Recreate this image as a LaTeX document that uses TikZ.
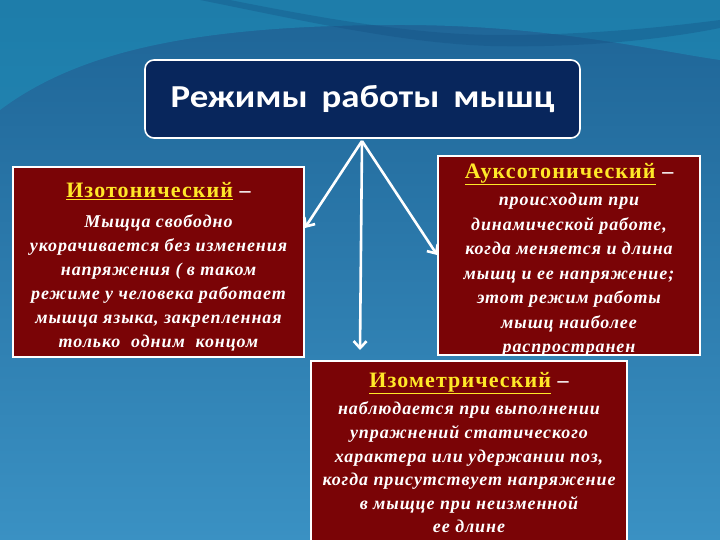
\documentclass[tikz,border=0pt]{standalone}
\usepackage{fontspec}
\setmainfont{Liberation Serif}
\newfontfamily\bodyfont[LetterSpace=5]{Liberation Serif}
\newfontfamily\titlefont{Carlito}
\usetikzlibrary{arrows.meta}
\definecolor{bgA}{RGB}{30,100,150}
\definecolor{bgB}{RGB}{58,145,195}
\definecolor{bgLight}{RGB}{30,150,190}
\definecolor{bgDark}{RGB}{20,80,130}
\definecolor{boxred}{RGB}{122,4,6}
\definecolor{navy}{RGB}{8,38,92}
\definecolor{headyel}{RGB}{255,232,40}
\tikzset{
  redbox/.style={draw=white, line width=1.6pt, fill=boxred, inner sep=0pt},
  titlebox/.style={draw=white, line width=1.6pt, fill=navy, rounded corners=9pt, inner sep=0pt,
    font=\titlefont\bfseries\fontsize{32}{36}\selectfont, text=white},
  bodytext/.style={align=center, text=white, inner sep=0pt, anchor=north,
    font=\bodyfont\bfseries\itshape\fontsize{18}{24}\selectfont},
  conn/.style={draw=white, line width=2.6pt, -{Straight Barb[length=7pt,width=13pt,line width=2.6pt]}}
}
\newcommand{\head}[1]{{\upshape\bfseries\fontsize{22}{24}\selectfont\textcolor{headyel}{\underline{#1}} –}}
\begin{document}
\begin{tikzpicture}[x=1pt,y=1pt]
\useasboundingbox (0,0) rectangle (720,540);
\shade[top color=bgA, bottom color=bgB] (0,0) rectangle (720,540);
\fill[bgLight, opacity=0.5] (0,540) -- (0,430) .. controls (80,490) and (200,515) .. (400,515) .. controls (550,515) and (650,490) .. (720,480) -- (720,540) -- cycle;
\fill[bgDark, opacity=0.35] (230,540) .. controls (330,520) and (420,505) .. (500,505) .. controls (600,505) and (680,515) .. (720,520) -- (720,512) .. controls (660,500) and (580,492) .. (490,494) .. controls (400,497) and (300,520) .. (200,540) -- cycle;

\node[titlebox, minimum width=435pt, minimum height=78pt] (title) at (362.5,441) {\scalebox{1.15}[1]{Режимы\hspace{12pt}работы\hspace{12pt}мышц}};

\node[redbox, minimum width=291pt, minimum height=190pt] (iso) at (158.5,278) {};
\node[redbox, minimum width=262pt, minimum height=199pt] (aux) at (569,284.5) {};
\node[redbox, minimum width=316pt, minimum height=182pt] (imet) at (469,88) {};

\node[bodytext] (isotext) at (158.5,358) {\head{Изотонический}\\[6pt]
Мыщца свободно\\ укорачивается без изменения\\ напряжения ( в таком\\ режиме у человека работает\\ мышца языка, закрепленная\\ только\ \ одним\ \ концом};

\node[bodytext, font=\bodyfont\bfseries\itshape\fontsize{18}{24.5}\selectfont] (auxtext) at (569,377) {\head{Ауксотонический}\\[3pt]
происходит при\\ динамической работе,\\ когда меняется и длина\\ мышц и ее напряжение;\\ этот режим работы\\ мышц наиболее\\ распространен};

\node[bodytext, font=\bodyfont\bfseries\itshape\fontsize{18}{23.6}\selectfont] (imettext) at (469,168) {\head{Изометрический}\\[4pt]
наблюдается при выполнении\\ упражнений статического\\ характера или удержании поз,\\ когда присутствует напряжение\\ в мыщце при неизменной\\ ее длине};

\coordinate (apex) at (362,399);
\coordinate (downend) at (360,190);
\draw[conn] (apex) -- (iso.east |- 0,312);
\draw[conn] (apex) -- (aux.west |- 0,285);
\draw[conn] (apex) -- (downend);
\end{tikzpicture}
\end{document}
